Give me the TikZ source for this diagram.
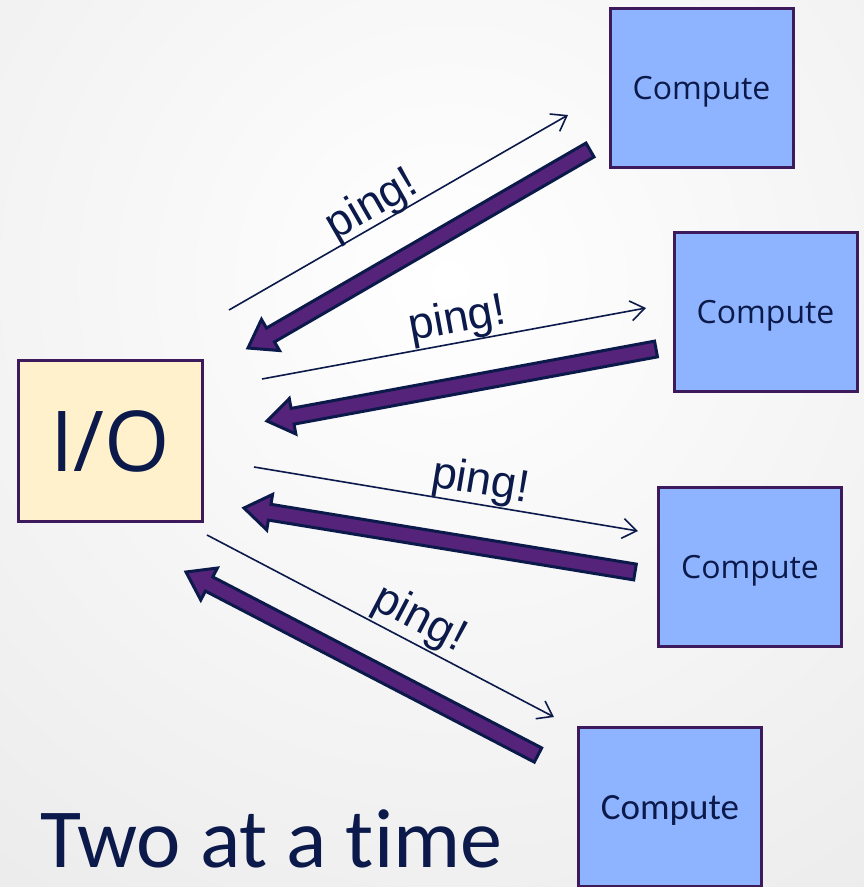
\documentclass[tikz,border=0pt]{standalone}
\usepackage{fontspec}
\setmainfont{Open Sans}
\newfontfamily\calib[Ligatures=NoCommon]{Carlito}
\newfontfamily\arialf{Liberation Sans}
\usetikzlibrary{calc,arrows.meta}
\definecolor{navy}{HTML}{0B1A4A}
\definecolor{boxline}{HTML}{3C1A5B}
\definecolor{compfill}{HTML}{8FB4FF}
\definecolor{iofill}{HTML}{FFF1CC}
\definecolor{arrfill}{HTML}{55237A}
\tikzset{
  compbox/.style={draw=boxline, fill=compfill, line width=3pt, minimum width=183pt, minimum height=159pt, inner sep=0pt, text=navy, text height=23pt, text depth=0pt, font=\fontsize{32}{38}\selectfont},
  iobox/.style={draw=boxline, fill=iofill, line width=3pt, minimum width=184pt, minimum height=161pt, inner sep=0pt, text=navy, text height=60pt, text depth=0pt, font=\fontsize{84}{96}\selectfont},
  pingline/.style={draw=navy, line width=1.6pt, -{Straight Barb[length=14pt,width=20pt]}},
  lbl/.style={sloped, above, inner sep=0pt, text=navy, font=\arialf\fontsize{45}{52}\selectfont},
  barrow/.style={draw=navy, fill=arrfill, line width=3pt, line join=miter}
}
\newcommand\blockarrow[2]{%
  \coordinate (hb) at ($(#2)!26pt!(#1)$);
  \filldraw[barrow] ($(#1)!8pt!90:(#2)$) -- ($(hb)!8pt!-90:(#1)$) -- ($(hb)!18pt!-90:(#1)$) -- (#2) -- ($(hb)!18pt!90:(#1)$) -- ($(hb)!8pt!90:(#1)$) -- ($(#1)!8pt!-90:(#2)$) -- cycle;}
\begin{document}
\begin{tikzpicture}[x=1pt,y=-1pt]
\useasboundingbox (0,0) rectangle (864,887);
\begin{scope}
  \clip (0,0) rectangle (864,887);
  \shade[inner color=white, outer color=black!13] (450,280) circle (1300);
\end{scope}

% nodes
\node[iobox] (io) at (110,441) {I/O};
\node[compbox] (c1) at (701.5,87.5) {Compute};
\node[compbox] (c2) at (765.5,311.5) {Compute};
\node[compbox] (c3) at (750,567) {Compute};
\node[compbox, text height=24pt, font=\calib\fontsize{37}{44}\selectfont] (c4) at (670,807) {Compute};

% ping line endpoints
\coordinate (p1s) at (229,310); \coordinate (p1e) at (568,115);
\coordinate (p2s) at (262,379); \coordinate (p2e) at (646,308);
\coordinate (p3s) at (254,467); \coordinate (p3e) at (638,531);
\coordinate (p4s) at (207,535); \coordinate (p4e) at (554,717);

\draw[pingline] (p1s) -- node[lbl, pos=.45, yshift=-3pt] {ping!} (p1e);
\draw[pingline] (p2s) -- node[lbl, pos=.52] {ping!} (p2e);
\draw[pingline] (p3s) -- node[lbl, pos=.58] {ping!} (p3e);
\draw[pingline] (p4s) -- node[lbl, pos=.58, yshift=2pt] {ping!} (p4e);

% thick return arrows
\coordinate (r1s) at (590,150); \coordinate (r1e) at (248,348);
\coordinate (r2s) at (656,349); \coordinate (r2e) at (267,421);
\coordinate (r3s) at (635,572); \coordinate (r3e) at (244,508);
\coordinate (r4s) at (538,755); \coordinate (r4e) at (186,572);
\blockarrow{r1s}{r1e}
\blockarrow{r2s}{r2e}
\blockarrow{r3s}{r3e}
\blockarrow{r4s}{r4e}

\node[anchor=base west, inner sep=0pt, text=navy, font=\calib\fontsize{84}{96}\selectfont] (title) at (40,867) {Two at a time};
\end{tikzpicture}
\end{document}
